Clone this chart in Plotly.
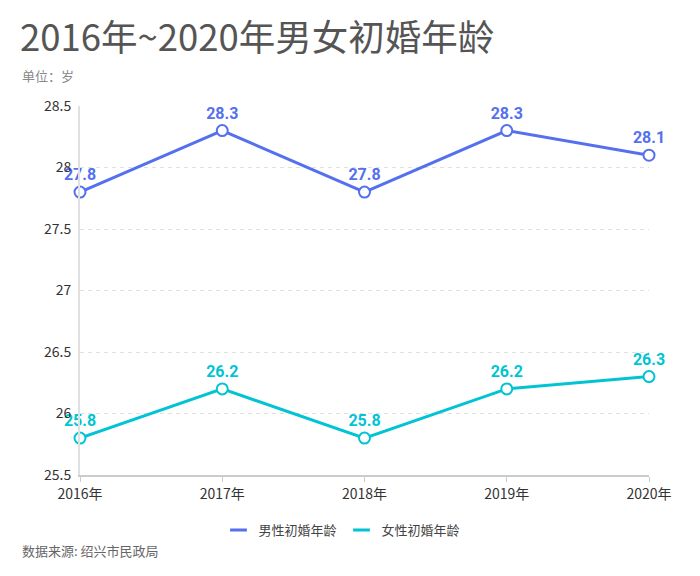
import plotly.graph_objects as go

years = ["2016年", "2017年", "2018年", "2019年", "2020年"]
male = [27.8, 28.3, 27.8, 28.3, 28.1]
female = [25.8, 26.2, 25.8, 26.2, 26.3]
male_name = "男性初婚年龄"
female_name = "女性初婚年龄"

FONT = "Noto Sans CJK SC"
C_MALE = "#5470ee"
C_FEMALE = "#00c4d4"

fig = go.Figure()
for name, vals, col in [(male_name, male, C_MALE), (female_name, female, C_FEMALE)]:
    fig.add_trace(go.Scatter(
        x=years, y=vals, name=name, mode="lines+markers+text", showlegend=False,
        line=dict(color=col, width=3),
        marker=dict(symbol="circle", size=11, color="white", line=dict(color=col, width=2)),
        text=[f"{v:.1f}" for v in vals], textposition="top center",
        textfont=dict(family="Roboto", size=16, color=col, weight="bold"),
        cliponaxis=False,
    ))
for name, col in [(male_name, C_MALE), (female_name, C_FEMALE)]:
    fig.add_trace(go.Scatter(x=[None], y=[None], name=name, mode="markers",
                             marker=dict(symbol="line-ew", size=12, color=col,
                                         line=dict(color=col, width=3)),
                             showlegend=True))

# page body has an 8px margin, so the figure is drawn at (8, 8)
W, H = 692, 568
L, R, T, B = 72, 51, 98, 101
PH = H - T - B
PW = W - L - R

def px(xabs):
    return (xabs - 8 - L) / PW

def py(yabs):
    return (H - B - (yabs - 8)) / PH

fig.update_layout(
    width=W, height=H,
    margin=dict(l=L, r=R, t=T, b=B, autoexpand=False),
    paper_bgcolor="white", plot_bgcolor="white",
    font=dict(family=FONT, color="#333"),
    showlegend=True,
    legend=dict(orientation="h", x=px(342), xanchor="center",
                y=py(530), yanchor="middle",
                font=dict(size=13, color="#444"), itemwidth=30),
    title=dict(text="2016年~2020年男女初婚年龄", xref="container", x=12 / W, xanchor="left",
               yref="container", y=1 - 30 / H, yanchor="middle",
               font=dict(family=FONT, size=36.5, color="#555")),
    annotations=[
        dict(text="单位：岁", xref="paper", yref="paper", x=px(20), y=py(75), xanchor="left",
             yanchor="middle", showarrow=False, font=dict(size=13, color="#888")),
        dict(text="数据来源: 绍兴市民政局", xref="paper", yref="paper", x=px(20), y=py(550),
             xanchor="left", yanchor="middle", showarrow=False, font=dict(size=13, color="#666")),
    ],
)
fig.update_xaxes(type="category", range=[0, 4], showgrid=False, showline=True,
                 linecolor="#ccc", linewidth=2, ticks="outside", ticklen=5, tickcolor="#ccc",
                 tickangle=0, tickfont=dict(size=14, color="#333"))
fig.update_yaxes(range=[25.5, 28.5], dtick=0.5, showgrid=True, gridcolor="#e0e0e0",
                 griddash="4px,4px", gridwidth=1, showline=True, linecolor="#e0e0e0", linewidth=2,
                 zeroline=False, tickfont=dict(size=14, color="#333"), ticks="", ticklabelstandoff=4)

fig.write_html("out.html")
